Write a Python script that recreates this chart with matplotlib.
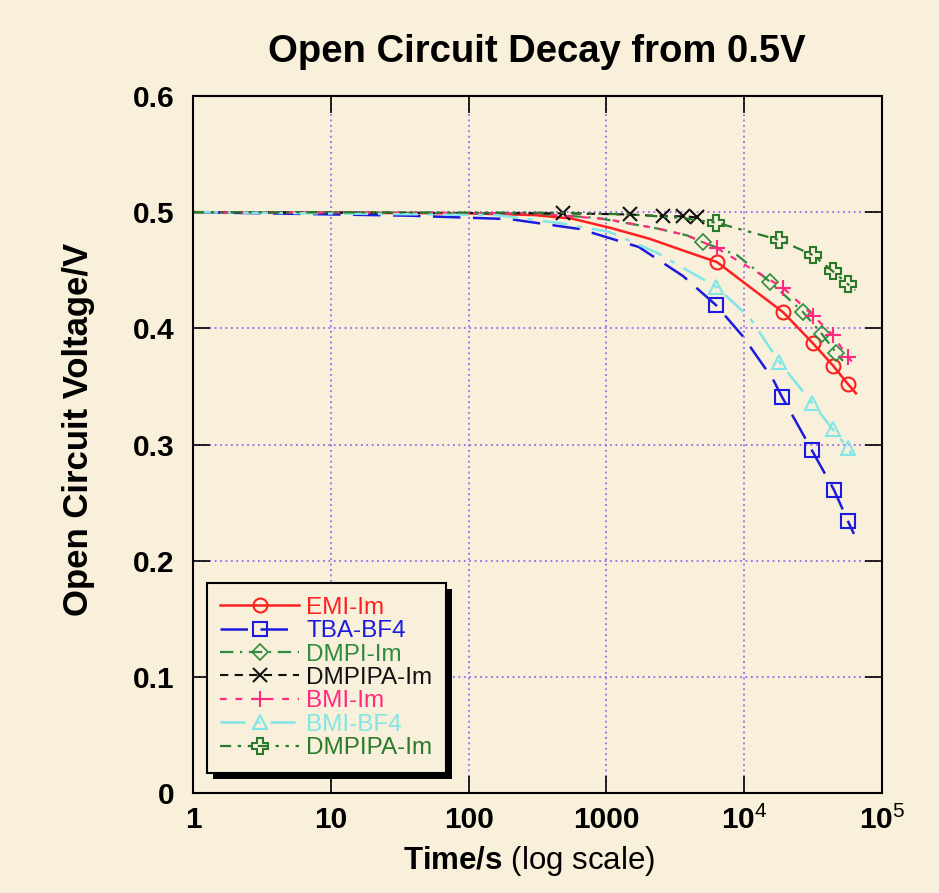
import matplotlib
matplotlib.use('Agg')
import matplotlib.pyplot as plt
from matplotlib.patches import Rectangle
from matplotlib.ticker import FixedLocator, FixedFormatter, NullLocator

plt.rcParams['font.family'] = ['Liberation Sans', 'DejaVu Sans']
plt.rcParams['mathtext.fontset'] = 'custom'
plt.rcParams['mathtext.rm'] = 'Liberation Sans'
plt.rcParams['mathtext.bf'] = 'Liberation Sans:bold'

bg = '#f8f0da'

# data (time in s, voltage in V)
t_emi = [1, 100, 300, 560, 1060, 2070, 3600, 6350, 19100, 31600, 44100, 56600, 64700]
v_emi = [0.500, 0.499, 0.4975, 0.4945, 0.4866, 0.477, 0.467, 0.457, 0.414, 0.387, 0.368, 0.352, 0.344]
m_emi = [7, 8, 9, 10, 11]

t_tba = [1, 36, 200, 640, 1720, 3600, 6240, 9800, 16200, 18800, 25000, 31000, 44800, 56600, 62600]
v_tba = [0.500, 0.497, 0.494, 0.4855, 0.470, 0.445, 0.420, 0.393, 0.356, 0.341, 0.315, 0.295, 0.261, 0.234, 0.223]
m_tba = [6, 9, 11, 12, 13]

t_dmpi = [1, 300, 860, 2330, 3850, 5030, 8870, 11600, 15400, 26700, 36700, 46400, 52000]
v_dmpi = [0.500, 0.499, 0.495, 0.486, 0.480, 0.474, 0.463, 0.452, 0.440, 0.414, 0.395, 0.379, 0.372]
m_dmpi = [5, 8, 9, 10, 11]

t_dmpipa = [1, 484, 1480, 2580, 3600, 4540]
v_dmpipa = [0.500, 0.499, 0.498, 0.4965, 0.4965, 0.4955]
m_dmpipa = [1, 2, 3, 4, 5]

t_bmi = [1, 300, 1000, 2330, 3850, 6350, 19100, 31600, 44100, 56600, 61000]
v_bmi = [0.500, 0.499, 0.494, 0.486, 0.480, 0.469, 0.435, 0.411, 0.394, 0.375, 0.371]
m_bmi = [5, 6, 7, 8, 9]

t_bmibf4 = [1, 160, 460, 1050, 2330, 3600, 6240, 11000, 18000, 31000, 44000, 56600, 60600]
v_bmibf4 = [0.500, 0.4975, 0.4905, 0.483, 0.465, 0.452, 0.436, 0.409, 0.371, 0.336, 0.313, 0.297, 0.291]
m_bmibf4 = [6, 8, 9, 10, 11]

t_dmpipa2 = [1, 500, 1500, 3600, 4540, 6240, 11000, 18000, 31600, 44100, 56600, 64000]
v_dmpipa2 = [0.500, 0.4995, 0.498, 0.495, 0.493, 0.491, 0.483, 0.476, 0.463, 0.449, 0.438, 0.433]
m_dmpipa2 = [5, 7, 8, 9, 10]

x_ticks = [1, 10, 100, 1000, 1e4, 1e5]
x_labels = ['1', '10', '100', '1000', r'$\mathbf{10}^{4}$', r'$\mathbf{10}^{5}$']
y_ticks = [0, 0.1, 0.2, 0.3, 0.4, 0.5, 0.6]
y_labels = ['0', '0.1', '0.2', '0.3', '0.4', '0.5', '0.6']

fig = plt.figure(figsize=(9.39, 8.93), dpi=100, facecolor=bg)
ax = fig.add_axes([193 / 939, 1 - 793 / 893, 689 / 939, 697 / 893])
ax.set_facecolor(bg)

ax.plot(t_emi, v_emi, color='#ff2020', lw=1.8, ls='-', marker='o', ms=10,
        mfc='none', mew=1.5, markevery=m_emi, label='EMI-Im')
ax.plot(t_tba, v_tba, color='#1a1ae0', lw=1.8, dashes=(11, 5), marker='s', ms=10,
        mfc='none', mew=1.5, markevery=m_tba, label='TBA-BF4')
ax.plot(t_dmpi, v_dmpi, color='#2e8b40', lw=1.6, dashes=(6, 3, 1, 3), marker='D', ms=8,
        mfc='none', mew=1.2, markevery=m_dmpi, label='DMPI-Im')
ax.plot(t_dmpipa, v_dmpipa, color='#111111', lw=1.5, dashes=(4, 3), marker='x', ms=10,
        mew=1.5, markevery=m_dmpipa, label='DMPIPA-Im')
ax.plot(t_bmi, v_bmi, color='#ff2a80', lw=1.6, dashes=(3, 4), marker='+', ms=12,
        mew=1.5, markevery=m_bmi, label='BMI-Im')
ax.plot(t_bmibf4, v_bmibf4, color='#80e6e6', lw=1.8, dashes=(10, 4, 2, 4), marker='^', ms=10,
        mfc='none', mew=1.5, markevery=m_bmibf4, label='BMI-BF4')
ax.plot(t_dmpipa2, v_dmpipa2, color='#2b7a2b', lw=1.6, dashes=(5, 3, 1.5, 3, 1.5, 3), marker='P', ms=11,
        mfc='none', mew=1.5, markevery=m_dmpipa2, label='DMPIPA-Im')

ax.set_xscale('log')
ax.set_xlim(1, 1e5)
ax.set_ylim(0, 0.6)
ax.xaxis.set_major_locator(FixedLocator(x_ticks))
ax.xaxis.set_major_formatter(FixedFormatter(x_labels))
ax.xaxis.set_minor_locator(NullLocator())
ax.set_yticks(y_ticks)
ax.set_yticklabels(y_labels)

ax.grid(True, color='#9a66ee', ls=(0, (1, 2)), lw=1.3)
ax.tick_params(direction='in', length=12, width=1.2, top=True, right=True,
               labelsize=21.5)
ax.tick_params(axis='y', pad=13)
ax.tick_params(axis='x', pad=9)
for lab in ax.get_xticklabels() + ax.get_yticklabels():
    lab.set_fontweight('bold')
for sp in ax.spines.values():
    sp.set_linewidth(1.5)

ax.set_ylabel('Open Circuit Voltage/V', fontsize=25, fontweight='bold')
ax.yaxis.set_label_coords(-0.142, 0.521)
ax.set_xlabel(r'$\mathbf{Time/s}$ (log scale)', fontsize=22.5)
ax.xaxis.set_label_coords(0.488, -0.073)
ax.text(0.4995, 1.0488, 'Open Circuit Decay from 0.5V', transform=ax.transAxes,
        ha='center', va='baseline', fontsize=27.5, fontweight='bold')

leg = ax.legend(loc='lower left', bbox_to_anchor=(0.02, 0.029), borderaxespad=0,
                fontsize=17.5, labelcolor='linecolor', fancybox=False,
                edgecolor='black', facecolor=bg, framealpha=1,
                handlelength=3.25, handletextpad=0.3, labelspacing=0.06,
                borderpad=0.55)
leg.get_frame().set_linewidth(1.5)
leg.set_zorder(6)

fig.canvas.draw()
bb = leg.get_window_extent()
shadow = Rectangle((bb.x0 + 6, bb.y0 - 6), bb.width, bb.height, transform=None,
                   facecolor='black', edgecolor='none', zorder=5.5)
ax.add_artist(shadow)

fig.savefig('out.png', dpi=100, facecolor=bg)
